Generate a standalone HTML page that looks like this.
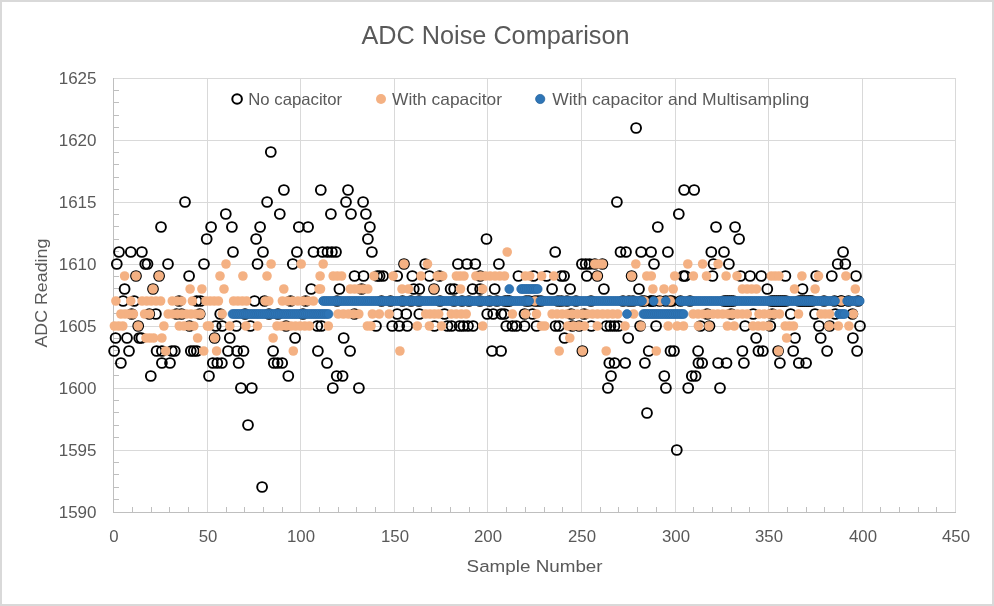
<!DOCTYPE html>
<html><head><meta charset="utf-8"><title>ADC Noise Comparison</title>
<style>html,body{margin:0;padding:0;background:#fff;width:994px;height:606px;overflow:hidden}svg{display:block;will-change:transform}</style>
</head><body>
<svg width="994" height="606" viewBox="0 0 994 606"><rect x="0" y="0" width="994" height="606" fill="#ffffff"/><rect x="1" y="1" width="992" height="604" fill="none" stroke="#d9d9d9" stroke-width="2"/><path d="M113,78.5H956 M113,140.5H956 M113,202.5H956 M113,264.5H956 M113,326.5H956 M113,388.5H956 M113,450.5H956 M113,512.5H956 M207.5,78V512 M300.5,78V512 M394.5,78V512 M487.5,78V512 M581.5,78V512 M675.5,78V512 M768.5,78V512 M862.5,78V512 M955.5,78V512" stroke="#d9d9d9" stroke-width="1" fill="none"/><path d="M113.5,78V513 M113,512.5H956 M114,499.5H119 M114,487.5H119 M114,474.5H119 M114,462.5H119 M114,437.5H119 M114,425.5H119 M114,412.5H119 M114,400.5H119 M114,375.5H119 M114,363.5H119 M114,350.5H119 M114,338.5H119 M114,313.5H119 M114,301.5H119 M114,288.5H119 M114,276.5H119 M114,251.5H119 M114,239.5H119 M114,226.5H119 M114,214.5H119 M114,189.5H119 M114,177.5H119 M114,164.5H119 M114,152.5H119 M114,127.5H119 M114,115.5H119 M114,102.5H119 M114,90.5H119 M132.5,512V507 M151.5,512V507 M169.5,512V507 M188.5,512V507 M226.5,512V507 M244.5,512V507 M263.5,512V507 M282.5,512V507 M319.5,512V507 M338.5,512V507 M356.5,512V507 M375.5,512V507 M413.5,512V507 M431.5,512V507 M450.5,512V507 M469.5,512V507 M506.5,512V507 M525.5,512V507 M544.5,512V507 M562.5,512V507 M600.5,512V507 M618.5,512V507 M637.5,512V507 M656.5,512V507 M693.5,512V507 M712.5,512V507 M731.5,512V507 M749.5,512V507 M787.5,512V507 M806.5,512V507 M824.5,512V507 M843.5,512V507 M880.5,512V507 M899.5,512V507 M918.5,512V507 M936.5,512V507" stroke="#bfbfbf" stroke-width="1" fill="none"/><text x="96.5" y="517.9" font-family="Liberation Sans, sans-serif" fill="#595959" font-size="17" text-anchor="end">1590</text><text x="96.5" y="455.9" font-family="Liberation Sans, sans-serif" fill="#595959" font-size="17" text-anchor="end">1595</text><text x="96.5" y="393.9" font-family="Liberation Sans, sans-serif" fill="#595959" font-size="17" text-anchor="end">1600</text><text x="96.5" y="331.9" font-family="Liberation Sans, sans-serif" fill="#595959" font-size="17" text-anchor="end">1605</text><text x="96.5" y="269.9" font-family="Liberation Sans, sans-serif" fill="#595959" font-size="17" text-anchor="end">1610</text><text x="96.5" y="207.9" font-family="Liberation Sans, sans-serif" fill="#595959" font-size="17" text-anchor="end">1615</text><text x="96.5" y="145.9" font-family="Liberation Sans, sans-serif" fill="#595959" font-size="17" text-anchor="end">1620</text><text x="96.5" y="83.9" font-family="Liberation Sans, sans-serif" fill="#595959" font-size="17" text-anchor="end">1625</text><text x="114.0" y="542" font-family="Liberation Sans, sans-serif" fill="#595959" font-size="16.8" text-anchor="middle">0</text><text x="208.0" y="542" font-family="Liberation Sans, sans-serif" fill="#595959" font-size="16.8" text-anchor="middle">50</text><text x="301.0" y="542" font-family="Liberation Sans, sans-serif" fill="#595959" font-size="16.8" text-anchor="middle">100</text><text x="395.0" y="542" font-family="Liberation Sans, sans-serif" fill="#595959" font-size="16.8" text-anchor="middle">150</text><text x="488.0" y="542" font-family="Liberation Sans, sans-serif" fill="#595959" font-size="16.8" text-anchor="middle">200</text><text x="582.0" y="542" font-family="Liberation Sans, sans-serif" fill="#595959" font-size="16.8" text-anchor="middle">250</text><text x="676.0" y="542" font-family="Liberation Sans, sans-serif" fill="#595959" font-size="16.8" text-anchor="middle">300</text><text x="769.0" y="542" font-family="Liberation Sans, sans-serif" fill="#595959" font-size="16.8" text-anchor="middle">350</text><text x="863.0" y="542" font-family="Liberation Sans, sans-serif" fill="#595959" font-size="16.8" text-anchor="middle">400</text><text x="956.0" y="542" font-family="Liberation Sans, sans-serif" fill="#595959" font-size="16.8" text-anchor="middle">450</text><text x="361.5" y="43.8" font-family="Liberation Sans, sans-serif" fill="#595959" font-size="24.9" textLength="268" lengthAdjust="spacingAndGlyphs">ADC Noise Comparison</text><text x="466.6" y="572.2" font-family="Liberation Sans, sans-serif" fill="#595959" font-size="16.8" textLength="136" lengthAdjust="spacingAndGlyphs">Sample Number</text><text transform="translate(46.5,347.6) rotate(-90)" x="0" y="0" font-family="Liberation Sans, sans-serif" fill="#595959" font-size="16.5" textLength="109" lengthAdjust="spacingAndGlyphs">ADC Reading</text><circle cx="237.1" cy="99" r="4.8" fill="none" stroke="#000" stroke-width="2"/><text x="248.3" y="104.6" font-family="Liberation Sans, sans-serif" fill="#595959" font-size="16.5" textLength="93.8" lengthAdjust="spacingAndGlyphs">No capacitor</text><circle cx="381" cy="99" r="5" fill="#f4b183"/><text x="392" y="104.6" font-family="Liberation Sans, sans-serif" fill="#595959" font-size="16.5" textLength="110" lengthAdjust="spacingAndGlyphs">With capacitor</text><circle cx="540.2" cy="99" r="4.6" fill="#2e75b6" stroke="#27659e" stroke-width="0.8"/><text x="552.2" y="104.6" font-family="Liberation Sans, sans-serif" fill="#595959" font-size="16.5" textLength="257" lengthAdjust="spacingAndGlyphs">With capacitor and Multisampling</text><g fill="none" stroke="#000" stroke-width="1.9"><circle cx="636.1" cy="128.0" r="4.92"/><circle cx="270.8" cy="152.0" r="4.92"/><circle cx="283.9" cy="190.0" r="4.92"/><circle cx="320.8" cy="190.0" r="4.92"/><circle cx="348.0" cy="190.0" r="4.92"/><circle cx="684.1" cy="190.0" r="4.92"/><circle cx="694.2" cy="190.0" r="4.92"/><circle cx="185.0" cy="202.0" r="4.92"/><circle cx="267.1" cy="202.0" r="4.92"/><circle cx="346.0" cy="202.0" r="4.92"/><circle cx="363.1" cy="202.0" r="4.92"/><circle cx="616.9" cy="202.0" r="4.92"/><circle cx="225.8" cy="214.0" r="4.92"/><circle cx="279.8" cy="214.0" r="4.92"/><circle cx="330.9" cy="214.0" r="4.92"/><circle cx="351.0" cy="214.0" r="4.92"/><circle cx="365.9" cy="214.0" r="4.92"/><circle cx="678.8" cy="214.0" r="4.92"/><circle cx="161.0" cy="227.0" r="4.92"/><circle cx="211.1" cy="227.0" r="4.92"/><circle cx="231.9" cy="227.0" r="4.92"/><circle cx="260.1" cy="227.0" r="4.92"/><circle cx="298.8" cy="227.0" r="4.92"/><circle cx="308.1" cy="227.0" r="4.92"/><circle cx="369.9" cy="227.0" r="4.92"/><circle cx="657.8" cy="227.0" r="4.92"/><circle cx="716.0" cy="227.0" r="4.92"/><circle cx="735.1" cy="227.0" r="4.92"/><circle cx="206.7" cy="239.0" r="4.92"/><circle cx="256.1" cy="239.0" r="4.92"/><circle cx="367.9" cy="239.0" r="4.92"/><circle cx="486.5" cy="239.0" r="4.92"/><circle cx="739.1" cy="239.0" r="4.92"/><circle cx="119.0" cy="252.0" r="4.92"/><circle cx="130.8" cy="252.0" r="4.92"/><circle cx="141.9" cy="252.0" r="4.92"/><circle cx="233.0" cy="252.0" r="4.92"/><circle cx="263.0" cy="252.0" r="4.92"/><circle cx="296.9" cy="252.0" r="4.92"/><circle cx="313.5" cy="252.0" r="4.92"/><circle cx="322.5" cy="252.0" r="4.92"/><circle cx="327.5" cy="252.0" r="4.92"/><circle cx="331.9" cy="252.0" r="4.92"/><circle cx="336.0" cy="252.0" r="4.92"/><circle cx="371.9" cy="252.0" r="4.92"/><circle cx="555.2" cy="252.0" r="4.92"/><circle cx="620.5" cy="252.0" r="4.92"/><circle cx="626.0" cy="252.0" r="4.92"/><circle cx="641.1" cy="252.0" r="4.92"/><circle cx="651.1" cy="252.0" r="4.92"/><circle cx="667.9" cy="252.0" r="4.92"/><circle cx="711.3" cy="252.0" r="4.92"/><circle cx="724.0" cy="252.0" r="4.92"/><circle cx="843.1" cy="252.0" r="4.92"/><circle cx="116.8" cy="264.0" r="4.92"/><circle cx="145.2" cy="264.0" r="4.92"/><circle cx="147.5" cy="264.0" r="4.92"/><circle cx="168.0" cy="264.0" r="4.92"/><circle cx="204.0" cy="264.0" r="4.92"/><circle cx="257.5" cy="264.0" r="4.92"/><circle cx="292.8" cy="264.0" r="4.92"/><circle cx="404.0" cy="264.0" r="4.92"/><circle cx="425.2" cy="264.0" r="4.92"/><circle cx="457.9" cy="264.0" r="4.92"/><circle cx="467.0" cy="264.0" r="4.92"/><circle cx="475.3" cy="264.0" r="4.92"/><circle cx="498.9" cy="264.0" r="4.92"/><circle cx="581.9" cy="264.0" r="4.92"/><circle cx="585.7" cy="264.0" r="4.92"/><circle cx="589.5" cy="264.0" r="4.92"/><circle cx="594.8" cy="264.0" r="4.92"/><circle cx="602.4" cy="264.0" r="4.92"/><circle cx="654.0" cy="264.0" r="4.92"/><circle cx="713.5" cy="264.0" r="4.92"/><circle cx="728.9" cy="264.0" r="4.92"/><circle cx="837.7" cy="264.0" r="4.92"/><circle cx="845.3" cy="264.0" r="4.92"/><circle cx="136.0" cy="276.0" r="4.92"/><circle cx="159.1" cy="276.0" r="4.92"/><circle cx="189.1" cy="276.0" r="4.92"/><circle cx="354.5" cy="276.0" r="4.92"/><circle cx="363.6" cy="276.0" r="4.92"/><circle cx="377.2" cy="276.0" r="4.92"/><circle cx="379.6" cy="276.0" r="4.92"/><circle cx="383.1" cy="276.0" r="4.92"/><circle cx="397.2" cy="276.0" r="4.92"/><circle cx="412.3" cy="276.0" r="4.92"/><circle cx="429.4" cy="276.0" r="4.92"/><circle cx="439.5" cy="276.0" r="4.92"/><circle cx="480.1" cy="276.0" r="4.92"/><circle cx="518.4" cy="276.0" r="4.92"/><circle cx="533.5" cy="276.0" r="4.92"/><circle cx="546.6" cy="276.0" r="4.92"/><circle cx="561.1" cy="276.0" r="4.92"/><circle cx="564.1" cy="276.0" r="4.92"/><circle cx="586.8" cy="276.0" r="4.92"/><circle cx="597.3" cy="276.0" r="4.92"/><circle cx="631.6" cy="276.0" r="4.92"/><circle cx="683.3" cy="276.0" r="4.92"/><circle cx="685.3" cy="276.0" r="4.92"/><circle cx="712.5" cy="276.0" r="4.92"/><circle cx="740.5" cy="276.0" r="4.92"/><circle cx="750.1" cy="276.0" r="4.92"/><circle cx="761.2" cy="276.0" r="4.92"/><circle cx="785.4" cy="276.0" r="4.92"/><circle cx="816.2" cy="276.0" r="4.92"/><circle cx="831.8" cy="276.0" r="4.92"/><circle cx="856.0" cy="276.0" r="4.92"/><circle cx="124.6" cy="289.0" r="4.92"/><circle cx="153.0" cy="289.0" r="4.92"/><circle cx="311.2" cy="289.0" r="4.92"/><circle cx="339.4" cy="289.0" r="4.92"/><circle cx="361.6" cy="289.0" r="4.92"/><circle cx="413.8" cy="289.0" r="4.92"/><circle cx="419.3" cy="289.0" r="4.92"/><circle cx="434.0" cy="289.0" r="4.92"/><circle cx="450.6" cy="289.0" r="4.92"/><circle cx="454.1" cy="289.0" r="4.92"/><circle cx="472.6" cy="289.0" r="4.92"/><circle cx="480.1" cy="289.0" r="4.92"/><circle cx="494.7" cy="289.0" r="4.92"/><circle cx="552.1" cy="289.0" r="4.92"/><circle cx="570.1" cy="289.0" r="4.92"/><circle cx="603.9" cy="289.0" r="4.92"/><circle cx="639.0" cy="289.0" r="4.92"/><circle cx="767.3" cy="289.0" r="4.92"/><circle cx="802.5" cy="289.0" r="4.92"/><circle cx="123.1" cy="301.0" r="4.92"/><circle cx="134.2" cy="301.0" r="4.92"/><circle cx="179.0" cy="301.0" r="4.92"/><circle cx="196.6" cy="301.0" r="4.92"/><circle cx="200.5" cy="301.0" r="4.92"/><circle cx="254.5" cy="301.0" r="4.92"/><circle cx="264.5" cy="301.0" r="4.92"/><circle cx="290.6" cy="301.0" r="4.92"/><circle cx="305.7" cy="301.0" r="4.92"/><circle cx="535.0" cy="301.0" r="4.92"/><circle cx="644.5" cy="301.0" r="4.92"/><circle cx="651.1" cy="301.0" r="4.92"/><circle cx="659.6" cy="301.0" r="4.92"/><circle cx="670.2" cy="301.0" r="4.92"/><circle cx="841.4" cy="301.0" r="4.92"/><circle cx="131.7" cy="314.0" r="4.92"/><circle cx="149.3" cy="314.0" r="4.92"/><circle cx="155.9" cy="314.0" r="4.92"/><circle cx="176.5" cy="314.0" r="4.92"/><circle cx="181.5" cy="314.0" r="4.92"/><circle cx="199.7" cy="314.0" r="4.92"/><circle cx="220.2" cy="314.0" r="4.92"/><circle cx="354.5" cy="314.0" r="4.92"/><circle cx="397.2" cy="314.0" r="4.92"/><circle cx="406.3" cy="314.0" r="4.92"/><circle cx="419.3" cy="314.0" r="4.92"/><circle cx="444.5" cy="314.0" r="4.92"/><circle cx="487.2" cy="314.0" r="4.92"/><circle cx="493.2" cy="314.0" r="4.92"/><circle cx="501.3" cy="314.0" r="4.92"/><circle cx="504.3" cy="314.0" r="4.92"/><circle cx="524.5" cy="314.0" r="4.92"/><circle cx="532.5" cy="314.0" r="4.92"/><circle cx="571.1" cy="314.0" r="4.92"/><circle cx="584.2" cy="314.0" r="4.92"/><circle cx="707.0" cy="314.0" r="4.92"/><circle cx="731.1" cy="314.0" r="4.92"/><circle cx="753.2" cy="314.0" r="4.92"/><circle cx="772.3" cy="314.0" r="4.92"/><circle cx="790.7" cy="314.0" r="4.92"/><circle cx="815.0" cy="314.0" r="4.92"/><circle cx="835.3" cy="314.0" r="4.92"/><circle cx="852.4" cy="314.0" r="4.92"/><circle cx="138.2" cy="326.0" r="4.92"/><circle cx="189.6" cy="326.0" r="4.92"/><circle cx="215.7" cy="326.0" r="4.92"/><circle cx="222.2" cy="326.0" r="4.92"/><circle cx="236.3" cy="326.0" r="4.92"/><circle cx="250.4" cy="326.0" r="4.92"/><circle cx="286.0" cy="326.0" r="4.92"/><circle cx="317.3" cy="326.0" r="4.92"/><circle cx="321.3" cy="326.0" r="4.92"/><circle cx="376.0" cy="326.0" r="4.92"/><circle cx="392.2" cy="326.0" r="4.92"/><circle cx="399.2" cy="326.0" r="4.92"/><circle cx="407.3" cy="326.0" r="4.92"/><circle cx="434.5" cy="326.0" r="4.92"/><circle cx="447.5" cy="326.0" r="4.92"/><circle cx="451.6" cy="326.0" r="4.92"/><circle cx="459.6" cy="326.0" r="4.92"/><circle cx="463.4" cy="326.0" r="4.92"/><circle cx="468.0" cy="326.0" r="4.92"/><circle cx="473.1" cy="326.0" r="4.92"/><circle cx="506.3" cy="326.0" r="4.92"/><circle cx="512.4" cy="326.0" r="4.92"/><circle cx="516.4" cy="326.0" r="4.92"/><circle cx="524.5" cy="326.0" r="4.92"/><circle cx="536.5" cy="326.0" r="4.92"/><circle cx="555.5" cy="326.0" r="4.92"/><circle cx="559.1" cy="326.0" r="4.92"/><circle cx="572.2" cy="326.0" r="4.92"/><circle cx="579.2" cy="326.0" r="4.92"/><circle cx="591.3" cy="326.0" r="4.92"/><circle cx="606.4" cy="326.0" r="4.92"/><circle cx="610.4" cy="326.0" r="4.92"/><circle cx="614.5" cy="326.0" r="4.92"/><circle cx="618.5" cy="326.0" r="4.92"/><circle cx="640.1" cy="326.0" r="4.92"/><circle cx="656.1" cy="326.0" r="4.92"/><circle cx="700.4" cy="326.0" r="4.92"/><circle cx="709.5" cy="326.0" r="4.92"/><circle cx="745.1" cy="326.0" r="4.92"/><circle cx="770.3" cy="326.0" r="4.92"/><circle cx="819.0" cy="326.0" r="4.92"/><circle cx="829.8" cy="326.0" r="4.92"/><circle cx="860.0" cy="326.0" r="4.92"/><circle cx="115.6" cy="338.0" r="4.92"/><circle cx="127.0" cy="338.0" r="4.92"/><circle cx="139.2" cy="338.0" r="4.92"/><circle cx="141.4" cy="338.0" r="4.92"/><circle cx="214.6" cy="338.0" r="4.92"/><circle cx="229.8" cy="338.0" r="4.92"/><circle cx="295.1" cy="338.0" r="4.92"/><circle cx="343.7" cy="338.0" r="4.92"/><circle cx="564.5" cy="338.0" r="4.92"/><circle cx="628.2" cy="338.0" r="4.92"/><circle cx="756.1" cy="338.0" r="4.92"/><circle cx="795.0" cy="338.0" r="4.92"/><circle cx="820.7" cy="338.0" r="4.92"/><circle cx="852.9" cy="338.0" r="4.92"/><circle cx="114.1" cy="351.0" r="4.92"/><circle cx="129.0" cy="351.0" r="4.92"/><circle cx="156.6" cy="351.0" r="4.92"/><circle cx="161.9" cy="351.0" r="4.92"/><circle cx="171.8" cy="351.0" r="4.92"/><circle cx="174.8" cy="351.0" r="4.92"/><circle cx="190.8" cy="351.0" r="4.92"/><circle cx="193.8" cy="351.0" r="4.92"/><circle cx="196.8" cy="351.0" r="4.92"/><circle cx="228.0" cy="351.0" r="4.92"/><circle cx="237.1" cy="351.0" r="4.92"/><circle cx="243.5" cy="351.0" r="4.92"/><circle cx="273.1" cy="351.0" r="4.92"/><circle cx="317.9" cy="351.0" r="4.92"/><circle cx="350.1" cy="351.0" r="4.92"/><circle cx="492.0" cy="351.0" r="4.92"/><circle cx="501.1" cy="351.0" r="4.92"/><circle cx="582.4" cy="351.0" r="4.92"/><circle cx="648.7" cy="351.0" r="4.92"/><circle cx="670.5" cy="351.0" r="4.92"/><circle cx="674.0" cy="351.0" r="4.92"/><circle cx="698.1" cy="351.0" r="4.92"/><circle cx="742.4" cy="351.0" r="4.92"/><circle cx="758.4" cy="351.0" r="4.92"/><circle cx="762.9" cy="351.0" r="4.92"/><circle cx="778.1" cy="351.0" r="4.92"/><circle cx="793.2" cy="351.0" r="4.92"/><circle cx="827.1" cy="351.0" r="4.92"/><circle cx="857.1" cy="351.0" r="4.92"/><circle cx="120.9" cy="363.0" r="4.92"/><circle cx="161.9" cy="363.0" r="4.92"/><circle cx="170.0" cy="363.0" r="4.92"/><circle cx="212.8" cy="363.0" r="4.92"/><circle cx="217.3" cy="363.0" r="4.92"/><circle cx="221.9" cy="363.0" r="4.92"/><circle cx="238.6" cy="363.0" r="4.92"/><circle cx="273.8" cy="363.0" r="4.92"/><circle cx="277.6" cy="363.0" r="4.92"/><circle cx="282.2" cy="363.0" r="4.92"/><circle cx="327.0" cy="363.0" r="4.92"/><circle cx="609.3" cy="363.0" r="4.92"/><circle cx="614.6" cy="363.0" r="4.92"/><circle cx="625.2" cy="363.0" r="4.92"/><circle cx="644.9" cy="363.0" r="4.92"/><circle cx="698.4" cy="363.0" r="4.92"/><circle cx="702.2" cy="363.0" r="4.92"/><circle cx="718.1" cy="363.0" r="4.92"/><circle cx="726.5" cy="363.0" r="4.92"/><circle cx="743.9" cy="363.0" r="4.92"/><circle cx="779.9" cy="363.0" r="4.92"/><circle cx="798.8" cy="363.0" r="4.92"/><circle cx="806.1" cy="363.0" r="4.92"/><circle cx="150.8" cy="376.0" r="4.92"/><circle cx="209.0" cy="376.0" r="4.92"/><circle cx="288.3" cy="376.0" r="4.92"/><circle cx="336.7" cy="376.0" r="4.92"/><circle cx="342.6" cy="376.0" r="4.92"/><circle cx="611.0" cy="376.0" r="4.92"/><circle cx="664.3" cy="376.0" r="4.92"/><circle cx="691.8" cy="376.0" r="4.92"/><circle cx="695.6" cy="376.0" r="4.92"/><circle cx="240.9" cy="388.0" r="4.92"/><circle cx="251.8" cy="388.0" r="4.92"/><circle cx="332.8" cy="388.0" r="4.92"/><circle cx="358.9" cy="388.0" r="4.92"/><circle cx="607.9" cy="388.0" r="4.92"/><circle cx="665.9" cy="388.0" r="4.92"/><circle cx="688.2" cy="388.0" r="4.92"/><circle cx="720.0" cy="388.0" r="4.92"/><circle cx="647.0" cy="413.0" r="4.92"/><circle cx="248.0" cy="425.0" r="4.92"/><circle cx="676.8" cy="450.0" r="4.92"/><circle cx="262.1" cy="487.0" r="4.92"/><circle cx="337.0" cy="301.0" r="4.92"/><circle cx="381.5" cy="301.0" r="4.92"/><circle cx="390.5" cy="301.0" r="4.92"/><circle cx="402.5" cy="301.0" r="4.92"/><circle cx="411.0" cy="301.0" r="4.92"/><circle cx="419.0" cy="301.0" r="4.92"/><circle cx="440.0" cy="301.0" r="4.92"/><circle cx="454.0" cy="301.0" r="4.92"/><circle cx="462.0" cy="301.0" r="4.92"/><circle cx="469.0" cy="301.0" r="4.92"/><circle cx="480.0" cy="301.0" r="4.92"/><circle cx="489.5" cy="301.0" r="4.92"/><circle cx="497.0" cy="301.0" r="4.92"/><circle cx="505.0" cy="301.0" r="4.92"/><circle cx="507.5" cy="301.0" r="4.92"/><circle cx="509.5" cy="301.0" r="4.92"/><circle cx="526.0" cy="301.0" r="4.92"/><circle cx="529.0" cy="301.0" r="4.92"/><circle cx="538.0" cy="301.0" r="4.92"/><circle cx="541.0" cy="301.0" r="4.92"/><circle cx="558.0" cy="301.0" r="4.92"/><circle cx="561.5" cy="301.0" r="4.92"/><circle cx="567.0" cy="301.0" r="4.92"/><circle cx="576.0" cy="301.0" r="4.92"/><circle cx="591.0" cy="301.0" r="4.92"/><circle cx="623.0" cy="301.0" r="4.92"/><circle cx="629.0" cy="301.0" r="4.92"/><circle cx="633.0" cy="301.0" r="4.92"/><circle cx="642.0" cy="301.0" r="4.92"/><circle cx="651.0" cy="301.0" r="4.92"/><circle cx="653.6" cy="301.0" r="4.92"/><circle cx="665.7" cy="301.0" r="4.92"/><circle cx="672.0" cy="301.0" r="4.92"/><circle cx="680.5" cy="301.0" r="4.92"/><circle cx="690.0" cy="301.0" r="4.92"/><circle cx="824.0" cy="301.0" r="4.92"/><circle cx="834.5" cy="301.0" r="4.92"/><circle cx="841.0" cy="301.0" r="4.92"/><circle cx="848.5" cy="301.0" r="4.92"/><circle cx="858.0" cy="301.0" r="4.92"/><circle cx="724.0" cy="301.0" r="4.92"/><circle cx="725.9" cy="301.0" r="4.92"/><circle cx="727.7" cy="301.0" r="4.92"/><circle cx="729.6" cy="301.0" r="4.92"/><circle cx="731.5" cy="301.0" r="4.92"/><circle cx="733.4" cy="301.0" r="4.92"/><circle cx="771.0" cy="301.0" r="4.92"/><circle cx="772.9" cy="301.0" r="4.92"/><circle cx="774.7" cy="301.0" r="4.92"/><circle cx="776.6" cy="301.0" r="4.92"/><circle cx="778.5" cy="301.0" r="4.92"/><circle cx="780.4" cy="301.0" r="4.92"/><circle cx="782.2" cy="301.0" r="4.92"/><circle cx="784.1" cy="301.0" r="4.92"/><circle cx="786.0" cy="301.0" r="4.92"/><circle cx="799.0" cy="301.0" r="4.92"/><circle cx="800.9" cy="301.0" r="4.92"/><circle cx="802.7" cy="301.0" r="4.92"/><circle cx="804.6" cy="301.0" r="4.92"/><circle cx="806.5" cy="301.0" r="4.92"/><circle cx="808.4" cy="301.0" r="4.92"/><circle cx="810.2" cy="301.0" r="4.92"/><circle cx="812.1" cy="301.0" r="4.92"/><circle cx="245.0" cy="314.0" r="4.92"/><circle cx="269.0" cy="314.0" r="4.92"/><circle cx="278.0" cy="314.0" r="4.92"/><circle cx="303.0" cy="314.0" r="4.92"/></g><g fill="#f4b183"><circle cx="507.2" cy="252.0" r="4.8"/><circle cx="226.0" cy="264.0" r="4.8"/><circle cx="271.1" cy="264.0" r="4.8"/><circle cx="301.2" cy="264.0" r="4.8"/><circle cx="323.2" cy="264.0" r="4.8"/><circle cx="404.0" cy="264.0" r="4.8"/><circle cx="427.5" cy="264.0" r="4.8"/><circle cx="594.8" cy="264.0" r="4.8"/><circle cx="598.6" cy="264.0" r="4.8"/><circle cx="602.4" cy="264.0" r="4.8"/><circle cx="635.8" cy="264.0" r="4.8"/><circle cx="687.8" cy="264.0" r="4.8"/><circle cx="702.6" cy="264.0" r="4.8"/><circle cx="718.1" cy="264.0" r="4.8"/><circle cx="124.6" cy="276.0" r="4.8"/><circle cx="136.0" cy="276.0" r="4.8"/><circle cx="159.1" cy="276.0" r="4.8"/><circle cx="220.0" cy="276.0" r="4.8"/><circle cx="242.9" cy="276.0" r="4.8"/><circle cx="267.0" cy="276.0" r="4.8"/><circle cx="320.1" cy="276.0" r="4.8"/><circle cx="333.2" cy="276.0" r="4.8"/><circle cx="337.4" cy="276.0" r="4.8"/><circle cx="341.6" cy="276.0" r="4.8"/><circle cx="374.0" cy="276.0" r="4.8"/><circle cx="393.2" cy="276.0" r="4.8"/><circle cx="420.9" cy="276.0" r="4.8"/><circle cx="437.3" cy="276.0" r="4.8"/><circle cx="442.7" cy="276.0" r="4.8"/><circle cx="456.4" cy="276.0" r="4.8"/><circle cx="460.2" cy="276.0" r="4.8"/><circle cx="464.0" cy="276.0" r="4.8"/><circle cx="475.9" cy="276.0" r="4.8"/><circle cx="480.7" cy="276.0" r="4.8"/><circle cx="485.4" cy="276.0" r="4.8"/><circle cx="490.2" cy="276.0" r="4.8"/><circle cx="495.0" cy="276.0" r="4.8"/><circle cx="499.7" cy="276.0" r="4.8"/><circle cx="504.5" cy="276.0" r="4.8"/><circle cx="525.3" cy="276.0" r="4.8"/><circle cx="529.7" cy="276.0" r="4.8"/><circle cx="541.6" cy="276.0" r="4.8"/><circle cx="553.8" cy="276.0" r="4.8"/><circle cx="597.3" cy="276.0" r="4.8"/><circle cx="631.6" cy="276.0" r="4.8"/><circle cx="646.8" cy="276.0" r="4.8"/><circle cx="651.3" cy="276.0" r="4.8"/><circle cx="674.7" cy="276.0" r="4.8"/><circle cx="693.4" cy="276.0" r="4.8"/><circle cx="706.5" cy="276.0" r="4.8"/><circle cx="726.1" cy="276.0" r="4.8"/><circle cx="737.0" cy="276.0" r="4.8"/><circle cx="771.3" cy="276.0" r="4.8"/><circle cx="775.1" cy="276.0" r="4.8"/><circle cx="778.9" cy="276.0" r="4.8"/><circle cx="801.9" cy="276.0" r="4.8"/><circle cx="818.5" cy="276.0" r="4.8"/><circle cx="845.9" cy="276.0" r="4.8"/><circle cx="153.0" cy="289.0" r="4.8"/><circle cx="190.1" cy="289.0" r="4.8"/><circle cx="201.9" cy="289.0" r="4.8"/><circle cx="224.0" cy="289.0" r="4.8"/><circle cx="283.8" cy="289.0" r="4.8"/><circle cx="319.1" cy="289.0" r="4.8"/><circle cx="320.5" cy="289.0" r="4.8"/><circle cx="350.3" cy="289.0" r="4.8"/><circle cx="354.7" cy="289.0" r="4.8"/><circle cx="359.1" cy="289.0" r="4.8"/><circle cx="363.4" cy="289.0" r="4.8"/><circle cx="367.8" cy="289.0" r="4.8"/><circle cx="402.0" cy="289.0" r="4.8"/><circle cx="408.5" cy="289.0" r="4.8"/><circle cx="434.0" cy="289.0" r="4.8"/><circle cx="460.5" cy="289.0" r="4.8"/><circle cx="482.7" cy="289.0" r="4.8"/><circle cx="652.9" cy="289.0" r="4.8"/><circle cx="664.0" cy="289.0" r="4.8"/><circle cx="673.2" cy="289.0" r="4.8"/><circle cx="742.4" cy="289.0" r="4.8"/><circle cx="747.1" cy="289.0" r="4.8"/><circle cx="751.7" cy="289.0" r="4.8"/><circle cx="756.4" cy="289.0" r="4.8"/><circle cx="794.5" cy="289.0" r="4.8"/><circle cx="815.1" cy="289.0" r="4.8"/><circle cx="855.3" cy="289.0" r="4.8"/><circle cx="115.9" cy="301.0" r="4.8"/><circle cx="130.7" cy="301.0" r="4.8"/><circle cx="142.1" cy="301.0" r="4.8"/><circle cx="146.7" cy="301.0" r="4.8"/><circle cx="151.3" cy="301.0" r="4.8"/><circle cx="156.0" cy="301.0" r="4.8"/><circle cx="160.6" cy="301.0" r="4.8"/><circle cx="172.3" cy="301.0" r="4.8"/><circle cx="177.0" cy="301.0" r="4.8"/><circle cx="181.7" cy="301.0" r="4.8"/><circle cx="192.4" cy="301.0" r="4.8"/><circle cx="205.9" cy="301.0" r="4.8"/><circle cx="210.1" cy="301.0" r="4.8"/><circle cx="214.2" cy="301.0" r="4.8"/><circle cx="218.4" cy="301.0" r="4.8"/><circle cx="233.6" cy="301.0" r="4.8"/><circle cx="237.9" cy="301.0" r="4.8"/><circle cx="242.3" cy="301.0" r="4.8"/><circle cx="246.6" cy="301.0" r="4.8"/><circle cx="265.3" cy="301.0" r="4.8"/><circle cx="268.8" cy="301.0" r="4.8"/><circle cx="282.4" cy="301.0" r="4.8"/><circle cx="287.6" cy="301.0" r="4.8"/><circle cx="292.7" cy="301.0" r="4.8"/><circle cx="297.9" cy="301.0" r="4.8"/><circle cx="303.1" cy="301.0" r="4.8"/><circle cx="308.2" cy="301.0" r="4.8"/><circle cx="313.4" cy="301.0" r="4.8"/><circle cx="535.0" cy="301.0" r="4.8"/><circle cx="644.5" cy="301.0" r="4.8"/><circle cx="660.1" cy="301.0" r="4.8"/><circle cx="670.2" cy="301.0" r="4.8"/><circle cx="841.4" cy="301.0" r="4.8"/><circle cx="120.9" cy="314.0" r="4.8"/><circle cx="125.1" cy="314.0" r="4.8"/><circle cx="129.2" cy="314.0" r="4.8"/><circle cx="133.4" cy="314.0" r="4.8"/><circle cx="144.6" cy="314.0" r="4.8"/><circle cx="149.5" cy="314.0" r="4.8"/><circle cx="168.2" cy="314.0" r="4.8"/><circle cx="172.8" cy="314.0" r="4.8"/><circle cx="177.4" cy="314.0" r="4.8"/><circle cx="182.0" cy="314.0" r="4.8"/><circle cx="186.5" cy="314.0" r="4.8"/><circle cx="191.1" cy="314.0" r="4.8"/><circle cx="195.7" cy="314.0" r="4.8"/><circle cx="200.3" cy="314.0" r="4.8"/><circle cx="222.2" cy="314.0" r="4.8"/><circle cx="338.2" cy="314.0" r="4.8"/><circle cx="343.4" cy="314.0" r="4.8"/><circle cx="348.5" cy="314.0" r="4.8"/><circle cx="353.6" cy="314.0" r="4.8"/><circle cx="358.8" cy="314.0" r="4.8"/><circle cx="372.4" cy="314.0" r="4.8"/><circle cx="379.3" cy="314.0" r="4.8"/><circle cx="389.1" cy="314.0" r="4.8"/><circle cx="425.7" cy="314.0" r="4.8"/><circle cx="430.0" cy="314.0" r="4.8"/><circle cx="434.4" cy="314.0" r="4.8"/><circle cx="438.7" cy="314.0" r="4.8"/><circle cx="451.4" cy="314.0" r="4.8"/><circle cx="456.3" cy="314.0" r="4.8"/><circle cx="461.3" cy="314.0" r="4.8"/><circle cx="466.2" cy="314.0" r="4.8"/><circle cx="512.4" cy="314.0" r="4.8"/><circle cx="525.5" cy="314.0" r="4.8"/><circle cx="536.5" cy="314.0" r="4.8"/><circle cx="552.1" cy="314.0" r="4.8"/><circle cx="557.1" cy="314.0" r="4.8"/><circle cx="562.2" cy="314.0" r="4.8"/><circle cx="567.2" cy="314.0" r="4.8"/><circle cx="572.3" cy="314.0" r="4.8"/><circle cx="577.3" cy="314.0" r="4.8"/><circle cx="582.4" cy="314.0" r="4.8"/><circle cx="587.4" cy="314.0" r="4.8"/><circle cx="592.5" cy="314.0" r="4.8"/><circle cx="597.5" cy="314.0" r="4.8"/><circle cx="602.6" cy="314.0" r="4.8"/><circle cx="607.6" cy="314.0" r="4.8"/><circle cx="612.7" cy="314.0" r="4.8"/><circle cx="617.7" cy="314.0" r="4.8"/><circle cx="633.6" cy="314.0" r="4.8"/><circle cx="693.2" cy="314.0" r="4.8"/><circle cx="698.1" cy="314.0" r="4.8"/><circle cx="703.0" cy="314.0" r="4.8"/><circle cx="708.0" cy="314.0" r="4.8"/><circle cx="712.9" cy="314.0" r="4.8"/><circle cx="717.8" cy="314.0" r="4.8"/><circle cx="722.7" cy="314.0" r="4.8"/><circle cx="727.6" cy="314.0" r="4.8"/><circle cx="732.5" cy="314.0" r="4.8"/><circle cx="737.5" cy="314.0" r="4.8"/><circle cx="742.4" cy="314.0" r="4.8"/><circle cx="747.3" cy="314.0" r="4.8"/><circle cx="759.0" cy="314.0" r="4.8"/><circle cx="764.1" cy="314.0" r="4.8"/><circle cx="769.2" cy="314.0" r="4.8"/><circle cx="774.4" cy="314.0" r="4.8"/><circle cx="779.5" cy="314.0" r="4.8"/><circle cx="798.5" cy="314.0" r="4.8"/><circle cx="821.0" cy="314.0" r="4.8"/><circle cx="825.2" cy="314.0" r="4.8"/><circle cx="829.5" cy="314.0" r="4.8"/><circle cx="853.4" cy="314.0" r="4.8"/><circle cx="114.4" cy="326.0" r="4.8"/><circle cx="118.6" cy="326.0" r="4.8"/><circle cx="122.8" cy="326.0" r="4.8"/><circle cx="138.2" cy="326.0" r="4.8"/><circle cx="163.9" cy="326.0" r="4.8"/><circle cx="179.3" cy="326.0" r="4.8"/><circle cx="184.1" cy="326.0" r="4.8"/><circle cx="189.0" cy="326.0" r="4.8"/><circle cx="193.8" cy="326.0" r="4.8"/><circle cx="207.4" cy="326.0" r="4.8"/><circle cx="209.3" cy="326.0" r="4.8"/><circle cx="229.8" cy="326.0" r="4.8"/><circle cx="245.9" cy="326.0" r="4.8"/><circle cx="257.5" cy="326.0" r="4.8"/><circle cx="277.0" cy="326.0" r="4.8"/><circle cx="281.6" cy="326.0" r="4.8"/><circle cx="286.3" cy="326.0" r="4.8"/><circle cx="290.9" cy="326.0" r="4.8"/><circle cx="295.5" cy="326.0" r="4.8"/><circle cx="300.1" cy="326.0" r="4.8"/><circle cx="304.8" cy="326.0" r="4.8"/><circle cx="309.4" cy="326.0" r="4.8"/><circle cx="328.3" cy="326.0" r="4.8"/><circle cx="367.4" cy="326.0" r="4.8"/><circle cx="371.0" cy="326.0" r="4.8"/><circle cx="417.3" cy="326.0" r="4.8"/><circle cx="429.4" cy="326.0" r="4.8"/><circle cx="441.5" cy="326.0" r="4.8"/><circle cx="482.7" cy="326.0" r="4.8"/><circle cx="541.4" cy="326.0" r="4.8"/><circle cx="544.8" cy="326.0" r="4.8"/><circle cx="567.9" cy="326.0" r="4.8"/><circle cx="573.4" cy="326.0" r="4.8"/><circle cx="578.9" cy="326.0" r="4.8"/><circle cx="584.4" cy="326.0" r="4.8"/><circle cx="597.3" cy="326.0" r="4.8"/><circle cx="625.0" cy="326.0" r="4.8"/><circle cx="641.0" cy="326.0" r="4.8"/><circle cx="668.2" cy="326.0" r="4.8"/><circle cx="677.1" cy="326.0" r="4.8"/><circle cx="683.5" cy="326.0" r="4.8"/><circle cx="698.4" cy="326.0" r="4.8"/><circle cx="709.0" cy="326.0" r="4.8"/><circle cx="727.4" cy="326.0" r="4.8"/><circle cx="734.2" cy="326.0" r="4.8"/><circle cx="753.0" cy="326.0" r="4.8"/><circle cx="758.2" cy="326.0" r="4.8"/><circle cx="763.3" cy="326.0" r="4.8"/><circle cx="768.5" cy="326.0" r="4.8"/><circle cx="785.2" cy="326.0" r="4.8"/><circle cx="789.4" cy="326.0" r="4.8"/><circle cx="793.5" cy="326.0" r="4.8"/><circle cx="829.0" cy="326.0" r="4.8"/><circle cx="838.3" cy="326.0" r="4.8"/><circle cx="848.9" cy="326.0" r="4.8"/><circle cx="146.0" cy="338.0" r="4.8"/><circle cx="149.8" cy="338.0" r="4.8"/><circle cx="153.6" cy="338.0" r="4.8"/><circle cx="161.9" cy="338.0" r="4.8"/><circle cx="197.6" cy="338.0" r="4.8"/><circle cx="214.6" cy="338.0" r="4.8"/><circle cx="273.1" cy="338.0" r="4.8"/><circle cx="569.8" cy="338.0" r="4.8"/><circle cx="786.6" cy="338.0" r="4.8"/><circle cx="165.7" cy="351.0" r="4.8"/><circle cx="203.7" cy="351.0" r="4.8"/><circle cx="216.6" cy="351.0" r="4.8"/><circle cx="293.3" cy="351.0" r="4.8"/><circle cx="399.9" cy="351.0" r="4.8"/><circle cx="559.2" cy="351.0" r="4.8"/><circle cx="582.4" cy="351.0" r="4.8"/><circle cx="606.2" cy="351.0" r="4.8"/><circle cx="656.3" cy="351.0" r="4.8"/><circle cx="778.5" cy="351.0" r="4.8"/></g><g fill="#2e75b6" stroke="#2a6aa6" stroke-width="0.7"><circle cx="509.3" cy="289.0" r="4.45"/><circle cx="521.2" cy="289.0" r="4.45"/><circle cx="523.0" cy="289.0" r="4.45"/><circle cx="524.9" cy="289.0" r="4.45"/><circle cx="526.7" cy="289.0" r="4.45"/><circle cx="528.5" cy="289.0" r="4.45"/><circle cx="530.4" cy="289.0" r="4.45"/><circle cx="532.2" cy="289.0" r="4.45"/><circle cx="534.0" cy="289.0" r="4.45"/><circle cx="535.9" cy="289.0" r="4.45"/><circle cx="537.7" cy="289.0" r="4.45"/><circle cx="323.1" cy="301.0" r="4.45"/><circle cx="325.0" cy="301.0" r="4.45"/><circle cx="326.8" cy="301.0" r="4.45"/><circle cx="328.7" cy="301.0" r="4.45"/><circle cx="330.6" cy="301.0" r="4.45"/><circle cx="332.5" cy="301.0" r="4.45"/><circle cx="334.3" cy="301.0" r="4.45"/><circle cx="336.2" cy="301.0" r="4.45"/><circle cx="338.1" cy="301.0" r="4.45"/><circle cx="340.0" cy="301.0" r="4.45"/><circle cx="341.8" cy="301.0" r="4.45"/><circle cx="343.7" cy="301.0" r="4.45"/><circle cx="345.6" cy="301.0" r="4.45"/><circle cx="347.5" cy="301.0" r="4.45"/><circle cx="349.3" cy="301.0" r="4.45"/><circle cx="351.2" cy="301.0" r="4.45"/><circle cx="353.1" cy="301.0" r="4.45"/><circle cx="355.0" cy="301.0" r="4.45"/><circle cx="356.8" cy="301.0" r="4.45"/><circle cx="358.7" cy="301.0" r="4.45"/><circle cx="360.6" cy="301.0" r="4.45"/><circle cx="362.4" cy="301.0" r="4.45"/><circle cx="364.3" cy="301.0" r="4.45"/><circle cx="366.2" cy="301.0" r="4.45"/><circle cx="368.1" cy="301.0" r="4.45"/><circle cx="369.9" cy="301.0" r="4.45"/><circle cx="371.8" cy="301.0" r="4.45"/><circle cx="373.7" cy="301.0" r="4.45"/><circle cx="375.6" cy="301.0" r="4.45"/><circle cx="377.4" cy="301.0" r="4.45"/><circle cx="379.3" cy="301.0" r="4.45"/><circle cx="381.2" cy="301.0" r="4.45"/><circle cx="383.1" cy="301.0" r="4.45"/><circle cx="384.9" cy="301.0" r="4.45"/><circle cx="386.8" cy="301.0" r="4.45"/><circle cx="388.7" cy="301.0" r="4.45"/><circle cx="390.6" cy="301.0" r="4.45"/><circle cx="392.4" cy="301.0" r="4.45"/><circle cx="394.3" cy="301.0" r="4.45"/><circle cx="396.2" cy="301.0" r="4.45"/><circle cx="398.0" cy="301.0" r="4.45"/><circle cx="399.9" cy="301.0" r="4.45"/><circle cx="401.8" cy="301.0" r="4.45"/><circle cx="403.7" cy="301.0" r="4.45"/><circle cx="405.5" cy="301.0" r="4.45"/><circle cx="407.4" cy="301.0" r="4.45"/><circle cx="409.3" cy="301.0" r="4.45"/><circle cx="411.2" cy="301.0" r="4.45"/><circle cx="413.0" cy="301.0" r="4.45"/><circle cx="414.9" cy="301.0" r="4.45"/><circle cx="416.8" cy="301.0" r="4.45"/><circle cx="418.7" cy="301.0" r="4.45"/><circle cx="420.5" cy="301.0" r="4.45"/><circle cx="422.4" cy="301.0" r="4.45"/><circle cx="424.3" cy="301.0" r="4.45"/><circle cx="426.2" cy="301.0" r="4.45"/><circle cx="428.0" cy="301.0" r="4.45"/><circle cx="429.9" cy="301.0" r="4.45"/><circle cx="431.8" cy="301.0" r="4.45"/><circle cx="433.6" cy="301.0" r="4.45"/><circle cx="435.5" cy="301.0" r="4.45"/><circle cx="437.4" cy="301.0" r="4.45"/><circle cx="439.3" cy="301.0" r="4.45"/><circle cx="441.1" cy="301.0" r="4.45"/><circle cx="443.0" cy="301.0" r="4.45"/><circle cx="444.9" cy="301.0" r="4.45"/><circle cx="446.8" cy="301.0" r="4.45"/><circle cx="448.6" cy="301.0" r="4.45"/><circle cx="450.5" cy="301.0" r="4.45"/><circle cx="452.4" cy="301.0" r="4.45"/><circle cx="454.3" cy="301.0" r="4.45"/><circle cx="456.1" cy="301.0" r="4.45"/><circle cx="458.0" cy="301.0" r="4.45"/><circle cx="459.9" cy="301.0" r="4.45"/><circle cx="461.7" cy="301.0" r="4.45"/><circle cx="463.6" cy="301.0" r="4.45"/><circle cx="465.5" cy="301.0" r="4.45"/><circle cx="467.4" cy="301.0" r="4.45"/><circle cx="469.2" cy="301.0" r="4.45"/><circle cx="471.1" cy="301.0" r="4.45"/><circle cx="473.0" cy="301.0" r="4.45"/><circle cx="474.9" cy="301.0" r="4.45"/><circle cx="476.7" cy="301.0" r="4.45"/><circle cx="478.6" cy="301.0" r="4.45"/><circle cx="480.5" cy="301.0" r="4.45"/><circle cx="482.4" cy="301.0" r="4.45"/><circle cx="484.2" cy="301.0" r="4.45"/><circle cx="486.1" cy="301.0" r="4.45"/><circle cx="488.0" cy="301.0" r="4.45"/><circle cx="489.9" cy="301.0" r="4.45"/><circle cx="491.7" cy="301.0" r="4.45"/><circle cx="493.6" cy="301.0" r="4.45"/><circle cx="495.5" cy="301.0" r="4.45"/><circle cx="497.3" cy="301.0" r="4.45"/><circle cx="499.2" cy="301.0" r="4.45"/><circle cx="501.1" cy="301.0" r="4.45"/><circle cx="503.0" cy="301.0" r="4.45"/><circle cx="504.8" cy="301.0" r="4.45"/><circle cx="506.7" cy="301.0" r="4.45"/><circle cx="508.6" cy="301.0" r="4.45"/><circle cx="510.5" cy="301.0" r="4.45"/><circle cx="512.3" cy="301.0" r="4.45"/><circle cx="514.2" cy="301.0" r="4.45"/><circle cx="516.1" cy="301.0" r="4.45"/><circle cx="518.0" cy="301.0" r="4.45"/><circle cx="519.8" cy="301.0" r="4.45"/><circle cx="521.7" cy="301.0" r="4.45"/><circle cx="523.6" cy="301.0" r="4.45"/><circle cx="525.5" cy="301.0" r="4.45"/><circle cx="527.3" cy="301.0" r="4.45"/><circle cx="529.2" cy="301.0" r="4.45"/><circle cx="540.4" cy="301.0" r="4.45"/><circle cx="542.3" cy="301.0" r="4.45"/><circle cx="544.2" cy="301.0" r="4.45"/><circle cx="546.0" cy="301.0" r="4.45"/><circle cx="547.9" cy="301.0" r="4.45"/><circle cx="549.8" cy="301.0" r="4.45"/><circle cx="551.7" cy="301.0" r="4.45"/><circle cx="553.6" cy="301.0" r="4.45"/><circle cx="555.5" cy="301.0" r="4.45"/><circle cx="557.3" cy="301.0" r="4.45"/><circle cx="559.2" cy="301.0" r="4.45"/><circle cx="561.1" cy="301.0" r="4.45"/><circle cx="563.0" cy="301.0" r="4.45"/><circle cx="564.9" cy="301.0" r="4.45"/><circle cx="566.7" cy="301.0" r="4.45"/><circle cx="568.6" cy="301.0" r="4.45"/><circle cx="570.5" cy="301.0" r="4.45"/><circle cx="572.4" cy="301.0" r="4.45"/><circle cx="574.3" cy="301.0" r="4.45"/><circle cx="576.1" cy="301.0" r="4.45"/><circle cx="578.0" cy="301.0" r="4.45"/><circle cx="579.9" cy="301.0" r="4.45"/><circle cx="581.8" cy="301.0" r="4.45"/><circle cx="583.7" cy="301.0" r="4.45"/><circle cx="585.6" cy="301.0" r="4.45"/><circle cx="587.4" cy="301.0" r="4.45"/><circle cx="589.3" cy="301.0" r="4.45"/><circle cx="591.2" cy="301.0" r="4.45"/><circle cx="593.1" cy="301.0" r="4.45"/><circle cx="595.0" cy="301.0" r="4.45"/><circle cx="596.8" cy="301.0" r="4.45"/><circle cx="598.7" cy="301.0" r="4.45"/><circle cx="600.6" cy="301.0" r="4.45"/><circle cx="602.5" cy="301.0" r="4.45"/><circle cx="604.4" cy="301.0" r="4.45"/><circle cx="606.3" cy="301.0" r="4.45"/><circle cx="608.1" cy="301.0" r="4.45"/><circle cx="610.0" cy="301.0" r="4.45"/><circle cx="611.9" cy="301.0" r="4.45"/><circle cx="613.8" cy="301.0" r="4.45"/><circle cx="615.7" cy="301.0" r="4.45"/><circle cx="617.5" cy="301.0" r="4.45"/><circle cx="619.4" cy="301.0" r="4.45"/><circle cx="621.3" cy="301.0" r="4.45"/><circle cx="623.2" cy="301.0" r="4.45"/><circle cx="625.1" cy="301.0" r="4.45"/><circle cx="626.9" cy="301.0" r="4.45"/><circle cx="628.8" cy="301.0" r="4.45"/><circle cx="630.7" cy="301.0" r="4.45"/><circle cx="632.6" cy="301.0" r="4.45"/><circle cx="634.5" cy="301.0" r="4.45"/><circle cx="636.4" cy="301.0" r="4.45"/><circle cx="638.2" cy="301.0" r="4.45"/><circle cx="640.1" cy="301.0" r="4.45"/><circle cx="642.0" cy="301.0" r="4.45"/><circle cx="653.6" cy="301.0" r="4.45"/><circle cx="665.7" cy="301.0" r="4.45"/><circle cx="680.1" cy="301.0" r="4.45"/><circle cx="682.0" cy="301.0" r="4.45"/><circle cx="683.8" cy="301.0" r="4.45"/><circle cx="685.7" cy="301.0" r="4.45"/><circle cx="687.6" cy="301.0" r="4.45"/><circle cx="689.4" cy="301.0" r="4.45"/><circle cx="691.3" cy="301.0" r="4.45"/><circle cx="693.2" cy="301.0" r="4.45"/><circle cx="695.0" cy="301.0" r="4.45"/><circle cx="696.9" cy="301.0" r="4.45"/><circle cx="698.8" cy="301.0" r="4.45"/><circle cx="700.6" cy="301.0" r="4.45"/><circle cx="702.5" cy="301.0" r="4.45"/><circle cx="704.4" cy="301.0" r="4.45"/><circle cx="706.2" cy="301.0" r="4.45"/><circle cx="708.1" cy="301.0" r="4.45"/><circle cx="710.0" cy="301.0" r="4.45"/><circle cx="711.8" cy="301.0" r="4.45"/><circle cx="713.7" cy="301.0" r="4.45"/><circle cx="715.6" cy="301.0" r="4.45"/><circle cx="717.4" cy="301.0" r="4.45"/><circle cx="719.3" cy="301.0" r="4.45"/><circle cx="721.2" cy="301.0" r="4.45"/><circle cx="723.0" cy="301.0" r="4.45"/><circle cx="724.9" cy="301.0" r="4.45"/><circle cx="726.8" cy="301.0" r="4.45"/><circle cx="728.6" cy="301.0" r="4.45"/><circle cx="730.5" cy="301.0" r="4.45"/><circle cx="732.4" cy="301.0" r="4.45"/><circle cx="734.2" cy="301.0" r="4.45"/><circle cx="736.1" cy="301.0" r="4.45"/><circle cx="738.0" cy="301.0" r="4.45"/><circle cx="739.8" cy="301.0" r="4.45"/><circle cx="741.7" cy="301.0" r="4.45"/><circle cx="743.6" cy="301.0" r="4.45"/><circle cx="745.4" cy="301.0" r="4.45"/><circle cx="747.3" cy="301.0" r="4.45"/><circle cx="749.2" cy="301.0" r="4.45"/><circle cx="751.0" cy="301.0" r="4.45"/><circle cx="752.9" cy="301.0" r="4.45"/><circle cx="754.8" cy="301.0" r="4.45"/><circle cx="756.6" cy="301.0" r="4.45"/><circle cx="758.5" cy="301.0" r="4.45"/><circle cx="760.3" cy="301.0" r="4.45"/><circle cx="762.2" cy="301.0" r="4.45"/><circle cx="764.1" cy="301.0" r="4.45"/><circle cx="765.9" cy="301.0" r="4.45"/><circle cx="767.8" cy="301.0" r="4.45"/><circle cx="769.7" cy="301.0" r="4.45"/><circle cx="771.5" cy="301.0" r="4.45"/><circle cx="773.4" cy="301.0" r="4.45"/><circle cx="775.3" cy="301.0" r="4.45"/><circle cx="777.1" cy="301.0" r="4.45"/><circle cx="779.0" cy="301.0" r="4.45"/><circle cx="780.9" cy="301.0" r="4.45"/><circle cx="782.7" cy="301.0" r="4.45"/><circle cx="784.6" cy="301.0" r="4.45"/><circle cx="786.5" cy="301.0" r="4.45"/><circle cx="788.3" cy="301.0" r="4.45"/><circle cx="790.2" cy="301.0" r="4.45"/><circle cx="792.1" cy="301.0" r="4.45"/><circle cx="793.9" cy="301.0" r="4.45"/><circle cx="795.8" cy="301.0" r="4.45"/><circle cx="797.7" cy="301.0" r="4.45"/><circle cx="799.5" cy="301.0" r="4.45"/><circle cx="801.4" cy="301.0" r="4.45"/><circle cx="803.3" cy="301.0" r="4.45"/><circle cx="805.1" cy="301.0" r="4.45"/><circle cx="807.0" cy="301.0" r="4.45"/><circle cx="808.9" cy="301.0" r="4.45"/><circle cx="810.7" cy="301.0" r="4.45"/><circle cx="812.6" cy="301.0" r="4.45"/><circle cx="814.5" cy="301.0" r="4.45"/><circle cx="816.3" cy="301.0" r="4.45"/><circle cx="818.2" cy="301.0" r="4.45"/><circle cx="820.1" cy="301.0" r="4.45"/><circle cx="821.9" cy="301.0" r="4.45"/><circle cx="823.8" cy="301.0" r="4.45"/><circle cx="825.7" cy="301.0" r="4.45"/><circle cx="827.5" cy="301.0" r="4.45"/><circle cx="829.4" cy="301.0" r="4.45"/><circle cx="831.3" cy="301.0" r="4.45"/><circle cx="833.1" cy="301.0" r="4.45"/><circle cx="835.0" cy="301.0" r="4.45"/><circle cx="847.2" cy="301.0" r="4.45"/><circle cx="849.0" cy="301.0" r="4.45"/><circle cx="850.8" cy="301.0" r="4.45"/><circle cx="852.6" cy="301.0" r="4.45"/><circle cx="854.3" cy="301.0" r="4.45"/><circle cx="856.1" cy="301.0" r="4.45"/><circle cx="857.9" cy="301.0" r="4.45"/><circle cx="859.7" cy="301.0" r="4.45"/><circle cx="232.6" cy="314.0" r="4.45"/><circle cx="234.5" cy="314.0" r="4.45"/><circle cx="236.4" cy="314.0" r="4.45"/><circle cx="238.2" cy="314.0" r="4.45"/><circle cx="240.1" cy="314.0" r="4.45"/><circle cx="242.0" cy="314.0" r="4.45"/><circle cx="243.9" cy="314.0" r="4.45"/><circle cx="245.8" cy="314.0" r="4.45"/><circle cx="247.6" cy="314.0" r="4.45"/><circle cx="249.5" cy="314.0" r="4.45"/><circle cx="251.4" cy="314.0" r="4.45"/><circle cx="253.3" cy="314.0" r="4.45"/><circle cx="255.2" cy="314.0" r="4.45"/><circle cx="257.0" cy="314.0" r="4.45"/><circle cx="258.9" cy="314.0" r="4.45"/><circle cx="260.8" cy="314.0" r="4.45"/><circle cx="262.7" cy="314.0" r="4.45"/><circle cx="264.6" cy="314.0" r="4.45"/><circle cx="266.4" cy="314.0" r="4.45"/><circle cx="268.3" cy="314.0" r="4.45"/><circle cx="270.2" cy="314.0" r="4.45"/><circle cx="272.1" cy="314.0" r="4.45"/><circle cx="274.0" cy="314.0" r="4.45"/><circle cx="275.8" cy="314.0" r="4.45"/><circle cx="277.7" cy="314.0" r="4.45"/><circle cx="279.6" cy="314.0" r="4.45"/><circle cx="281.5" cy="314.0" r="4.45"/><circle cx="283.4" cy="314.0" r="4.45"/><circle cx="285.3" cy="314.0" r="4.45"/><circle cx="287.1" cy="314.0" r="4.45"/><circle cx="289.0" cy="314.0" r="4.45"/><circle cx="290.9" cy="314.0" r="4.45"/><circle cx="292.8" cy="314.0" r="4.45"/><circle cx="294.7" cy="314.0" r="4.45"/><circle cx="296.5" cy="314.0" r="4.45"/><circle cx="298.4" cy="314.0" r="4.45"/><circle cx="300.3" cy="314.0" r="4.45"/><circle cx="302.2" cy="314.0" r="4.45"/><circle cx="304.1" cy="314.0" r="4.45"/><circle cx="305.9" cy="314.0" r="4.45"/><circle cx="307.8" cy="314.0" r="4.45"/><circle cx="309.7" cy="314.0" r="4.45"/><circle cx="311.6" cy="314.0" r="4.45"/><circle cx="313.5" cy="314.0" r="4.45"/><circle cx="315.3" cy="314.0" r="4.45"/><circle cx="317.2" cy="314.0" r="4.45"/><circle cx="319.1" cy="314.0" r="4.45"/><circle cx="321.0" cy="314.0" r="4.45"/><circle cx="322.9" cy="314.0" r="4.45"/><circle cx="324.7" cy="314.0" r="4.45"/><circle cx="326.6" cy="314.0" r="4.45"/><circle cx="328.5" cy="314.0" r="4.45"/><circle cx="627.0" cy="314.0" r="4.45"/><circle cx="643.5" cy="314.0" r="4.45"/><circle cx="645.4" cy="314.0" r="4.45"/><circle cx="647.3" cy="314.0" r="4.45"/><circle cx="649.2" cy="314.0" r="4.45"/><circle cx="651.1" cy="314.0" r="4.45"/><circle cx="653.0" cy="314.0" r="4.45"/><circle cx="654.9" cy="314.0" r="4.45"/><circle cx="656.8" cy="314.0" r="4.45"/><circle cx="658.7" cy="314.0" r="4.45"/><circle cx="660.6" cy="314.0" r="4.45"/><circle cx="662.5" cy="314.0" r="4.45"/><circle cx="664.5" cy="314.0" r="4.45"/><circle cx="666.4" cy="314.0" r="4.45"/><circle cx="668.3" cy="314.0" r="4.45"/><circle cx="670.2" cy="314.0" r="4.45"/><circle cx="672.1" cy="314.0" r="4.45"/><circle cx="674.0" cy="314.0" r="4.45"/><circle cx="675.9" cy="314.0" r="4.45"/><circle cx="677.8" cy="314.0" r="4.45"/><circle cx="679.7" cy="314.0" r="4.45"/><circle cx="681.6" cy="314.0" r="4.45"/><circle cx="683.5" cy="314.0" r="4.45"/><circle cx="839.1" cy="314.0" r="4.45"/><circle cx="840.9" cy="314.0" r="4.45"/><circle cx="842.8" cy="314.0" r="4.45"/><circle cx="844.6" cy="314.0" r="4.45"/></g></svg>
</body></html>
